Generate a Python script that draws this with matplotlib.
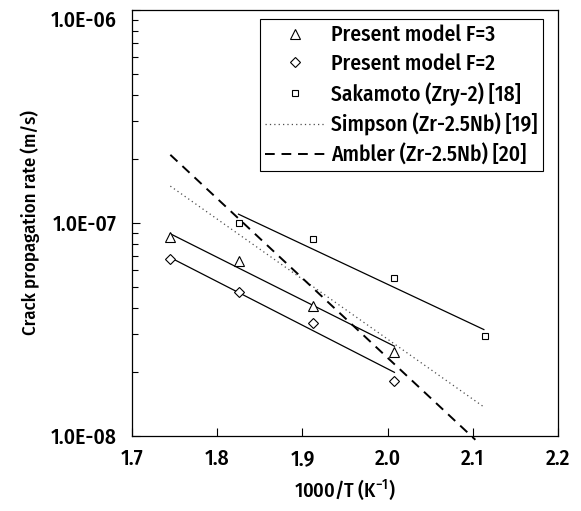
import matplotlib
matplotlib.use("Agg")
import matplotlib.pyplot as plt
import matplotlib.transforms as mtransforms
from matplotlib.ticker import LogLocator, FixedLocator, FixedFormatter, NullFormatter

plt.rcParams['font.family'] = ['Fira Sans Condensed', 'DejaVu Sans']
plt.rcParams['font.weight'] = 'medium'
plt.rcParams['axes.labelweight'] = 'medium'
plt.rcParams['mathtext.fontset'] = 'custom'
plt.rcParams['mathtext.rm'] = 'Fira Sans Condensed:medium'

# Data (1000/T in 1/K, crack propagation rate in m/s)
x_model = [1.745, 1.825, 1.912, 2.008]
f3_vals = [8.6e-8, 6.66e-8, 4.06e-8, 2.48e-8]
f2_vals = [6.75e-8, 4.76e-8, 3.40e-8, 1.81e-8]
x_sak = [1.825, 1.912, 2.008, 2.114]
sak_vals = [1.0e-7, 8.4e-8, 5.5e-8, 2.94e-8]

# fitted lines (end points)
f3_fit_x = [1.745, 2.008]
f3_fit_y = [8.9e-8, 2.64e-8]
f2_fit_x = [1.745, 2.008]
f2_fit_y = [6.88e-8, 1.99e-8]
sak_fit_x = [1.825, 2.113]
sak_fit_y = [1.1e-7, 3.16e-8]
simpson_x = [1.745, 2.114]
simpson_y = [1.49e-7, 1.36e-8]
ambler_x = [1.745, 2.103]
ambler_y = [2.09e-7, 9.6e-9]

xticks = [1.7, 1.8, 1.9, 2.0, 2.1, 2.2]
xtick_labels = ['1.7', '1.8', '1.9', '2.0', '2.1', '2.2']
yticks = [1e-8, 1e-7, 1e-6]
ytick_labels = ['1.0E-08', '1.0E-07', '1.0E-06']

fig = plt.figure(figsize=(5.81, 5.11), dpi=100)
ax = fig.add_axes([132/581, 75/511, 426/581, 426/511])

lw_fit = 0.9
ax.plot(f3_fit_x, f3_fit_y, color='black', lw=lw_fit)
ax.plot(f2_fit_x, f2_fit_y, color='black', lw=lw_fit)
ax.plot(sak_fit_x, sak_fit_y, color='black', lw=lw_fit)

ax.plot(x_model, f3_vals, linestyle='none', marker='^', ms=6.5, mfc='white', mec='black', mew=0.8,
        label='Present model F=3')
ax.plot(x_model, f2_vals, linestyle='none', marker='D', ms=5.5, mfc='white', mec='black', mew=0.8,
        label='Present model F=2')
ax.plot(x_sak, sak_vals, linestyle='none', marker='s', ms=5, mfc='white', mec='black', mew=0.8,
        label='Sakamoto (Zry-2) [18]')
ax.plot(simpson_x, simpson_y, color='0.3', lw=0.9, linestyle=(0, (1, 2.5)),
        label='Simpson (Zr-2.5Nb) [19]')
ax.plot(ambler_x, ambler_y, color='black', lw=1.4, linestyle=(0, (5, 3.5)), clip_on=False,
        label='Ambler (Zr-2.5Nb) [20]')

ax.set_yscale('log')
ax.set_xlim(1.7, 2.2)
ax.set_ylim(1e-8, 1e-6)

ax.xaxis.set_major_locator(FixedLocator(xticks))
ax.xaxis.set_major_formatter(FixedFormatter(xtick_labels))
ax.yaxis.set_major_locator(FixedLocator(yticks))
ax.yaxis.set_major_formatter(FixedFormatter(ytick_labels))
ax.yaxis.set_minor_locator(LogLocator(base=10, subs=range(2, 10)))
ax.yaxis.set_minor_formatter(NullFormatter())

ax.tick_params(axis='both', which='major', direction='in', length=6, width=0.8,
               labelsize=15.5, top=False, right=False)
ax.tick_params(axis='y', which='minor', direction='in', length=4, width=0.8, right=False)
ax.tick_params(axis='x', which='major', pad=9)
ax.tick_params(axis='y', which='major', pad=11)

for sp in ax.spines.values():
    sp.set_linewidth(0.9)

ax.set_xlabel('1000/T (K$^{-1}$)', fontsize=14.5, labelpad=6)
ax.set_ylabel('Crack propagation rate (m/s)', fontsize=13.5, labelpad=8)

leg = ax.legend(loc='upper right', bbox_to_anchor=(0.965, 0.979), fontsize=15.5,
                frameon=True, fancybox=False, edgecolor='black', framealpha=1,
                handlelength=2.8, handletextpad=0.28, labelspacing=0.35,
                borderpad=0.25, borderaxespad=0)
leg.get_frame().set_linewidth(0.8)

fig.canvas.draw()
# shift top y tick label slightly down as in the reference
for t in ax.yaxis.get_major_ticks():
    if abs(t.get_loc() - 1e-6) < 1e-12:
        t.label1.set_transform(t.label1.get_transform() +
                               mtransforms.ScaledTranslation(0, -9/100, fig.dpi_scale_trans))

fig.savefig('out.png', dpi=100)
